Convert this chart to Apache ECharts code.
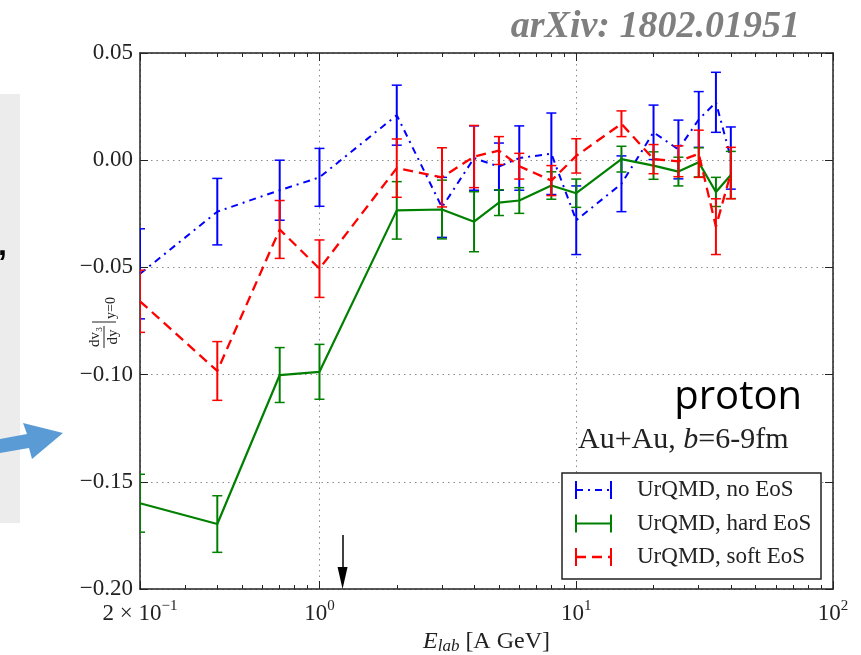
<!DOCTYPE html>
<html>
<head>
<meta charset="utf-8">
<script src="https://cdn.jsdelivr.net/npm/echarts@6/dist/echarts.min.js"></script>
<style>
  html, body { margin: 0; padding: 0; background: #fff; }
  #chart { width: 861px; height: 655px; }
</style>
</head>
<body>
<div id="chart"></div>
<script>
// Beam energies (A GeV)
const energies = [0.2, 0.4, 0.7, 1, 2, 3, 4, 5, 6, 8, 10, 15, 20, 25, 30, 35, 40];

// dv3/dy at midrapidity, protons, Au+Au b=6-9 fm
const noEosV   = [-0.053, -0.024, -0.014, -0.008, 0.021, -0.022, 0.001, -0.003, 0.001, 0.003, -0.028, -0.011, 0.013, 0.005, 0.019, 0.027, 0.001];
const noEosErr = [0.021, 0.0155, 0.014, 0.0135, 0.014, 0.014, 0.015, 0.011, 0.015, 0.019, 0.016, 0.013, 0.0127, 0.0137, 0.013, 0.014, 0.0145];

const hardV    = [-0.160, -0.1697, -0.1002, -0.0987, -0.0234, -0.023, -0.0287, -0.0198, -0.0188, -0.0118, -0.0154, 0.0005, -0.0025, -0.0053, -0.001, -0.0148, -0.0069];
const hardErr  = [0.0135, 0.0132, 0.0128, 0.0128, 0.0134, 0.0137, 0.014, 0.006, 0.006, 0.0064, 0.0066, 0.006, 0.0064, 0.0067, 0.0068, 0.0068, 0.011];

const softV    = [-0.0658, -0.0983, -0.0323, -0.0506, -0.0037, -0.008, 0.0017, 0.0045, -0.0028, -0.0095, 0.002, 0.017, 0.0005, -0.0005, 0.003, -0.031, -0.006];
const softErr  = [0.0145, 0.0137, 0.0135, 0.0134, 0.0136, 0.0138, 0.0145, 0.0065, 0.006, 0.007, 0.008, 0.006, 0.0068, 0.0072, 0.011, 0.013, 0.012];

const seriesNames = ['UrQMD, no EoS', 'UrQMD, hard EoS', 'UrQMD, soft EoS'];

// Axis ticks
const xMajorTicks = [0.2, 1, 10, 100];
const xTickBase   = ['2 × 10', '10', '10', '10'];
const xTickExp    = ['−1', '0', '1', '2'];
const xMinorTicks = [0.3, 0.4, 0.5, 0.6, 0.7, 0.8, 0.9, 2, 3, 4, 5, 6, 7, 8, 9, 20, 30, 40, 50, 60, 70, 80, 90];

// Threshold marker energy (A GeV)
const markerEnergy = 1.23;

const X_MIN = 0.2, X_MAX = 100, Y_MIN = -0.2, Y_MAX = 0.05, Y_STEP = 0.05;

const SERIF = '"Liberation Serif", "DejaVu Serif", serif';
const AXIS_COLOR = '#222';
const GRID_COLOR = '#8c8c8c';

const styles = [
  { color: '#0000ff', dash: [7, 5, 2, 5], width: 2 },
  { color: '#008000', dash: 'solid', width: 2.2 },
  { color: '#ff0000', dash: [10, 6], width: 2.3 }
];
const values = [noEosV, hardV, softV];
const errors = [noEosErr, hardErr, softErr];

function pointData(v) { return energies.map((e, i) => [e, v[i]]); }
function errData(v, err) { return energies.map((e, i) => [e, v[i], err[i]]); }

function errorBarRenderer(color) {
  return function (params, api) {
    const x = api.value(0), y = api.value(1), e = api.value(2);
    const top = api.coord([x, y + e]);
    const bot = api.coord([x, y - e]);
    const hw = 5;
    return {
      type: 'group',
      children: [
        { type: 'line', shape: { x1: top[0], y1: top[1], x2: bot[0], y2: bot[1] }, style: { stroke: color, lineWidth: 2 } },
        { type: 'line', shape: { x1: top[0] - hw, y1: top[1], x2: top[0] + hw, y2: top[1] }, style: { stroke: color, lineWidth: 1.5 } },
        { type: 'line', shape: { x1: bot[0] - hw, y1: bot[1], x2: bot[0] + hw, y2: bot[1] }, style: { stroke: color, lineWidth: 1.5 } }
      ]
    };
  };
}

function xLabel(v) {
  let best = 0, bd = Infinity;
  xMajorTicks.forEach((t, i) => {
    const d = Math.abs(Math.log10(v) - Math.log10(t));
    if (d < bd) { bd = d; best = i; }
  });
  return '{b|' + xTickBase[best] + '}{sup|' + xTickExp[best] + '}';
}
function yLabel(v) {
  const r = Math.round(v * 100) / 100;
  return (r < 0 ? '−' : '') + Math.abs(r).toFixed(2);
}

const series = [];
for (let k = 0; k < 3; k++) {
  const s = styles[k];
  series.push({
    name: seriesNames[k],
    type: 'custom',
    xAxisIndex: 0, yAxisIndex: 0,
    clip: true,
    z: 3 + k * 2,
    renderItem: errorBarRenderer(s.color),
    data: errData(values[k], errors[k])
  });
  series.push({
    name: seriesNames[k],
    type: 'line',
    xAxisIndex: 0, yAxisIndex: 0,
    showSymbol: false,
    symbol: 'none',
    clip: true,
    z: 4 + k * 2,
    lineStyle: { color: s.color, width: s.width, type: s.dash },
    data: pointData(values[k])
  });
}
// threshold arrow
series[3].markLine = {
  silent: true,
  symbol: ['none', 'triangle'],
  symbolSize: [10, 22],
  label: { show: false },
  lineStyle: { color: '#000', width: 1.5, type: 'solid' },
  data: [[{ coord: [markerEnergy, -0.1748] }, { coord: [markerEnergy, -0.1949] }]]
};

const chart = echarts.init(document.getElementById('chart'), null, { renderer: 'canvas' });

const legendY0 = 490, legendDy = 33.5;
const legendGraphics = [
  { type: 'rect', z: 100, shape: { x: 562, y: 473, width: 259, height: 106 }, style: { fill: '#fff', stroke: AXIS_COLOR, lineWidth: 1.5 } }
];
seriesNames.forEach((n, i) => {
  const y = legendY0 + legendDy * i;
  const s = styles[i];
  legendGraphics.push(
    { type: 'line', z: 101, shape: { x1: 576, y1: y, x2: 611, y2: y }, style: { stroke: s.color, lineWidth: s.width, lineDash: s.dash === 'solid' ? null : s.dash } },
    { type: 'line', z: 101, shape: { x1: 576, y1: y - 9, x2: 576, y2: y + 9 }, style: { stroke: s.color, lineWidth: 2 } },
    { type: 'line', z: 101, shape: { x1: 611, y1: y - 9, x2: 611, y2: y + 9 }, style: { stroke: s.color, lineWidth: 2 } },
    { type: 'text', z: 101, style: { x: 637, y: y, text: n, font: '23px ' + SERIF, fill: '#222', verticalAlign: 'middle' } }
  );
});

const minorAxisBase = {
  type: 'value', min: Math.log10(X_MIN), max: Math.log10(X_MAX),
  axisLine: { show: false, onZero: false },
  axisTick: { show: true, inside: true, length: 4, customValues: xMinorTicks.map(Math.log10), lineStyle: { color: AXIS_COLOR, width: 1 } },
  axisLabel: { show: false }, splitLine: { show: false }
};

const option = {
  animation: false,
  backgroundColor: '#fff',
  grid: { left: 140, right: 28, top: 53, bottom: 66, containLabel: false, outerBoundsMode: 'none' },
  xAxis: [
    {
      type: 'log', logBase: 10, min: X_MIN, max: X_MAX, position: 'bottom',
      axisLine: { show: true, onZero: false, lineStyle: { color: AXIS_COLOR, width: 1.5 } },
      axisTick: { show: true, inside: true, length: 8, lineStyle: { color: AXIS_COLOR, width: 1 } },
      splitLine: { show: true, lineStyle: { color: GRID_COLOR, width: 1, type: [1.5, 4] } },
      axisLabel: {
        show: true, margin: 10, formatter: xLabel, color: '#222',
        rich: {
          b: { fontFamily: SERIF, fontSize: 23, color: '#222' },
          sup: { fontFamily: SERIF, fontSize: 15, color: '#222', padding: [0, 0, 14, 0] }
        }
      },
      name: '{i|E}{sub|lab}{n| [A GeV]}',
      nameLocation: 'middle', nameGap: 36,
      nameTextStyle: {
        rich: {
          i: { fontFamily: SERIF, fontStyle: 'italic', fontSize: 24, color: '#222' },
          sub: { fontFamily: SERIF, fontStyle: 'italic', fontSize: 17, color: '#222', padding: [10, 0, 0, 0] },
          n: { fontFamily: SERIF, fontSize: 24, color: '#222' }
        }
      }
    },
    Object.assign({ position: 'bottom' }, minorAxisBase),
    {
      type: 'log', logBase: 10, min: X_MIN, max: X_MAX, position: 'top',
      axisLine: { show: true, onZero: false, lineStyle: { color: AXIS_COLOR, width: 1.5 } },
      axisTick: { show: true, inside: true, length: 8, lineStyle: { color: AXIS_COLOR, width: 1 } },
      axisLabel: { show: false }, splitLine: { show: false }
    },
    Object.assign({ position: 'top' }, minorAxisBase)
  ],
  yAxis: [
    {
      type: 'value', min: Y_MIN, max: Y_MAX, interval: Y_STEP, position: 'left',
      axisLine: { show: true, onZero: false, lineStyle: { color: AXIS_COLOR, width: 1.5 } },
      axisTick: { show: true, inside: true, length: 8, lineStyle: { color: AXIS_COLOR, width: 1 } },
      splitLine: { show: true, lineStyle: { color: GRID_COLOR, width: 1, type: [1.5, 4] } },
      axisLabel: { show: true, margin: 7, formatter: yLabel, fontFamily: SERIF, fontSize: 23, color: '#222' }
    },
    {
      type: 'value', min: Y_MIN, max: Y_MAX, interval: Y_STEP, position: 'right',
      axisLine: { show: true, onZero: false, lineStyle: { color: AXIS_COLOR, width: 1.5 } },
      axisTick: { show: true, inside: true, length: 8, lineStyle: { color: AXIS_COLOR, width: 1 } },
      splitLine: { show: false }, axisLabel: { show: false }
    }
  ],
  series: series,
  graphic: [
    // panel edge on the left
    { type: 'rect', z: 1, shape: { x: 0, y: 94, width: 20, height: 429 }, style: { fill: '#ececec' } },
    { type: 'text', z: 2, style: { x: -2, y: 246, text: ',', font: 'bold 32px "Liberation Sans", sans-serif', fill: '#000', verticalAlign: 'middle' } },
    { type: 'polygon', z: 2, shape: { points: [[0, 439], [27, 434], [23, 423], [63, 433], [32, 459], [29, 448], [0, 453]] }, style: { fill: '#5b9bd5' } },
    // reference tag
    { type: 'text', z: 5, style: { x: 800, y: 8, text: 'arXiv: 1802.01951', font: 'italic bold 38px ' + SERIF, fill: '#7f7f7f', align: 'right', verticalAlign: 'top' } },
    // y-axis label dv3/dy |y=0
    {
      type: 'group', x: 104, y: 322, rotation: Math.PI / 2, z: 5,
      children: [
        { type: 'text', style: { x: -15, y: -9, text: 'dv₃', font: '15px ' + SERIF, fill: '#222', align: 'center', verticalAlign: 'middle' } },
        { type: 'line', shape: { x1: -26, y1: 0, x2: -4, y2: 0 }, style: { stroke: '#222', lineWidth: 1 } },
        { type: 'text', style: { x: -15, y: 9, text: 'dy', font: '15px ' + SERIF, fill: '#222', align: 'center', verticalAlign: 'middle' } },
        { type: 'line', shape: { x1: 0, y1: -12, x2: 0, y2: 12 }, style: { stroke: '#222', lineWidth: 1 } },
        { type: 'text', style: { x: 3, y: 7, text: 'y=0', font: '14px ' + SERIF, fill: '#222', align: 'left', verticalAlign: 'middle' } }
      ]
    },
    // labels inside the plot
    { type: 'text', z: 50, style: { x: 802, y: 398, text: 'proton', font: '40px "Open Sans", sans-serif', fill: '#000', align: 'right', verticalAlign: 'middle' } },
    {
      type: 'text', z: 50,
      style: {
        x: 578, y: 440, verticalAlign: 'middle',
        text: '{n|Au+Au, }{i|b}{n|=6-9fm}',
        rich: {
          n: { fontFamily: SERIF, fontSize: 30, fill: '#222' },
          i: { fontFamily: SERIF, fontSize: 30, fontStyle: 'italic', fill: '#222' }
        }
      }
    }
  ].concat(legendGraphics)
};

chart.setOption(option);
</script>
</body>
</html>
